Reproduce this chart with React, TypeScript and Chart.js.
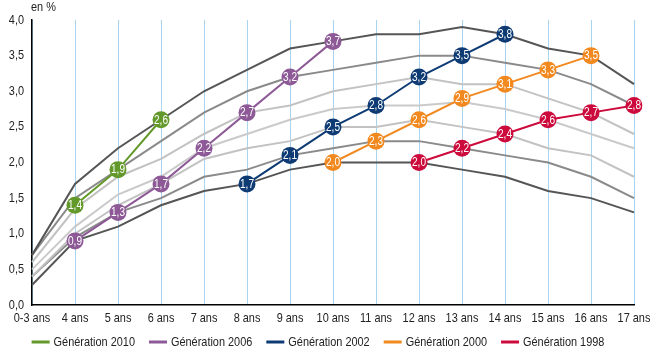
import React, { useEffect, useRef } from "react";
import { Chart, registerables } from "chart.js";

Chart.register(...registerables);

const ages = ["0-3 ans", "4 ans", "5 ans", "6 ans", "7 ans", "8 ans", "9 ans", "10 ans", "11 ans", "12 ans", "13 ans", "14 ans", "15 ans", "16 ans", "17 ans"];
const yTicks = [0, 0.5, 1, 1.5, 2, 2.5, 3, 3.5, 4];

// background yearly profiles (gray lines)
const year2016 = [0.7, 1.7, 2.2, 2.6, 3.0, 3.3, 3.6, 3.7, 3.8, 3.8, 3.9, 3.8, 3.6, 3.5, 3.1];
const year2015 = [0.7, 1.5, 1.9, 2.3, 2.7, 3.0, 3.2, 3.3, 3.4, 3.5, 3.5, 3.4, 3.3, 3.1, 2.8];
const year2014 = [0.6, 1.35, 1.8, 2.05, 2.4, 2.7, 2.8, 3.0, 3.1, 3.2, 3.1, 3.1, 2.9, 2.7, 2.4];
const year2013 = [0.5, 1.1, 1.55, 1.8, 2.2, 2.4, 2.6, 2.75, 2.8, 2.8, 2.85, 2.75, 2.6, 2.4, 2.2];
const year2012 = [0.4, 1.0, 1.4, 1.7, 2.05, 2.2, 2.3, 2.5, 2.5, 2.6, 2.5, 2.4, 2.2, 2.1, 1.8];
const year2011 = [0.4, 0.95, 1.3, 1.5, 1.8, 1.9, 2.1, 2.2, 2.3, 2.3, 2.2, 2.1, 2.0, 1.8, 1.5];
const year2010 = [0.28, 0.9, 1.1, 1.4, 1.6, 1.7, 1.9, 2.0, 2.0, 2.0, 1.9, 1.8, 1.6, 1.5, 1.3];

// generations (colored)
const gen2010 = [null, 1.4, 1.9, 2.6, null, null, null, null, null, null, null, null, null, null, null];
const gen2006 = [null, 0.9, 1.3, 1.7, 2.2, 2.7, 3.2, 3.7, null, null, null, null, null, null, null];
const gen2002 = [null, null, null, null, null, 1.7, 2.1, 2.5, 2.8, 3.2, 3.5, 3.8, null, null, null];
const gen2000 = [null, null, null, null, null, null, null, 2.0, 2.3, 2.6, 2.9, 3.1, 3.3, 3.5, null];
const gen1998 = [null, null, null, null, null, null, null, null, null, 2.0, 2.2, 2.4, 2.6, 2.7, 2.8];

const genLabels = ["Génération 2010", "Génération 2006", "Génération 2002", "Génération 2000", "Génération 1998"];
const genColors = ["#63992a", "#8d5a97", "#0e3b74", "#f2891f", "#cc0a3c"];
const unitLabel = "en %";

const FONT = "'Liberation Sans', Arial, sans-serif";
const SX = 0.84; // horizontal condensing of text
const TEXT = "#222222";

const fmt = (v: number) => v.toFixed(1).replace(".", ",");

function txt(ctx: CanvasRenderingContext2D, s: string, x: number, y: number, align: CanvasTextAlign) {
  ctx.save();
  ctx.translate(x, y);
  ctx.scale(SX, 1);
  ctx.textAlign = align;
  ctx.textBaseline = "middle";
  ctx.fillText(s, 0, 0);
  ctx.restore();
}

export default function App() {
  const ref = useRef<HTMLCanvasElement | null>(null);

  useEffect(() => {
    document.body.style.margin = "0";
    const canvas = ref.current;
    if (!canvas) return;

    const gens = [gen2010, gen2006, gen2002, gen2000, gen1998];
    const colored = gens.map((d, i) => ({
      label: genLabels[i],
      data: d,
      borderColor: genColors[i],
      backgroundColor: genColors[i],
      pointBackgroundColor: genColors[i],
      pointBorderColor: genColors[i],
      pointBorderWidth: 0,
      pointRadius: 8.5,
      borderWidth: 2,
      tension: 0,
      isGen: true,
    }));
    const grays = [
      { d: year2016, c: "#555555" },
      { d: year2015, c: "#8a8a8a" },
      { d: year2014, c: "#c2c2c2" },
      { d: year2013, c: "#cacaca" },
      { d: year2012, c: "#c2c2c2" },
      { d: year2011, c: "#8a8a8a" },
      { d: year2010, c: "#555555" },
    ].map((g, i) => ({
      label: "year" + i,
      data: g.d,
      borderColor: g.c,
      backgroundColor: g.c,
      pointRadius: 0,
      borderWidth: 2,
      tension: 0,
      isGen: false,
    }));

    const textPlugin = {
      id: "texts",
      afterDatasetsDraw(chart: any) {
        const ctx: CanvasRenderingContext2D = chart.ctx;
        ctx.save();
        // marker labels
        ctx.fillStyle = "#ffffff";
        ctx.font = "12px " + FONT;
        chart.data.datasets.forEach((ds: any, di: number) => {
          if (!ds.isGen) return;
          const meta = chart.getDatasetMeta(di);
          meta.data.forEach((pt: any, i: number) => {
            const v = ds.data[i];
            if (v === null || v === undefined) return;
            txt(ctx, fmt(v), pt.x, pt.y + 0.5, "center");
          });
        });
        ctx.restore();
      },
      afterDraw(chart: any) {
        const ctx: CanvasRenderingContext2D = chart.ctx;
        const xs = chart.scales.x;
        const ys = chart.scales.y;
        const area = chart.chartArea;
        ctx.save();
        ctx.fillStyle = TEXT;
        ctx.font = "13px " + FONT;
        // x labels
        ages.forEach((a, i) => {
          txt(ctx, a, xs.getPixelForValue(i), area.bottom + 13, "center");
        });
        // y labels
        yTicks.forEach((v) => {
          txt(ctx, fmt(v), area.left - 8, ys.getPixelForValue(v), "right");
        });
        // unit
        txt(ctx, unitLabel, area.left - 1, 7, "left");
        // legend
        const boxW = 18;
        const gapBox = 4;
        const gapItem = 14;
        const widths = genLabels.map((l) => ctx.measureText(l).width * SX);
        const total = widths.reduce((s, w) => s + boxW + gapBox + w, 0) + gapItem * (genLabels.length - 1);
        let x = 318 - total / 2;
        const ly = 342;
        genLabels.forEach((l, i) => {
          ctx.fillStyle = genColors[i];
          ctx.fillRect(x, ly - 1.5, boxW, 3);
          ctx.fillStyle = TEXT;
          txt(ctx, l, x + boxW + gapBox, ly + 0.5, "left");
          x += boxW + gapBox + widths[i] + gapItem;
        });
        ctx.restore();
      },
    };

    const chart = new Chart(canvas, {
      type: "line",
      data: { labels: ages, datasets: [...colored, ...grays] as any },
      options: {
        animation: false,
        responsive: false,
        layout: { padding: { top: 20, right: 26, left: 32, bottom: 49 } },
        plugins: {
          tooltip: { enabled: false },
          legend: { display: false },
        },
        scales: {
          x: {
            type: "category",
            offset: false,
            grid: { display: true, color: "#a9d4ef", lineWidth: 1, drawTicks: false },
            border: { display: true, color: "#000", width: 1.5 },
            ticks: { display: false },
          },
          y: {
            min: 0,
            max: 4,
            afterBuildTicks: (scale: any) => {
              scale.ticks = yTicks.map((v) => ({ value: v }));
            },
            grid: { display: false, drawTicks: false },
            border: { display: true, color: "#000", width: 1.5 },
            ticks: { display: false },
          },
        },
      },
      plugins: [textPlugin],
    });

    return () => chart.destroy();
  }, []);

  return <canvas ref={ref} width={660} height={354} style={{ display: "block" }} />;
}
